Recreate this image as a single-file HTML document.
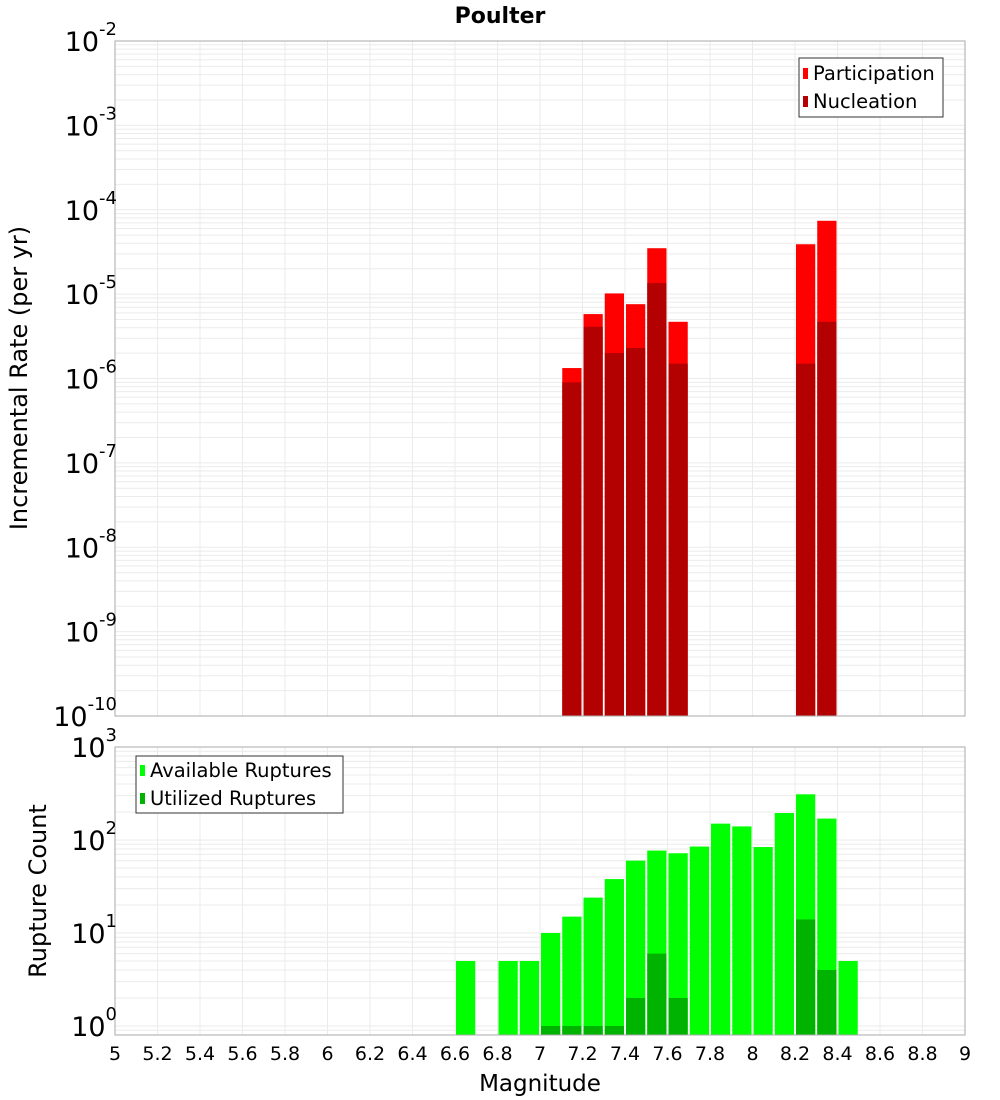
<!DOCTYPE html>
<html><head><meta charset="utf-8"><style>
body{margin:0;background:#fff;}
svg{display:block;font-family:"DejaVu Sans","Liberation Sans",sans-serif;}
</style></head><body>
<svg id="c" width="1000" height="1100" xmlns="http://www.w3.org/2000/svg"></svg>
<script>
const mags = [7.15,7.25,7.35,7.45,7.55,7.65,8.25,8.35];
const participation = [1.33e-6,5.8e-6,1.02e-5,7.6e-6,3.5e-5,4.7e-6,3.9e-5,7.4e-5];
const nucleation = [9e-7,4.1e-6,2.0e-6,2.3e-6,1.35e-5,1.5e-6,1.5e-6,4.7e-6];
const countMags = [6.65,6.85,6.95,7.05,7.15,7.25,7.35,7.45,7.55,7.65,7.75,7.85,7.95,8.05,8.15,8.25,8.35,8.45];
const available = [5,5,5,10,15,24,38,60,77,72,85,150,140,84,195,310,170,5];
const utilized = [0,0,0,1,1,1,1,2,6,2,0,0,0,0,0,14,4,0];
const xTicks = [5,5.2,5.4,5.6,5.8,6,6.2,6.4,6.6,6.8,7,7.2,7.4,7.6,7.8,8,8.2,8.4,8.6,8.8,9];
const topExps = [-10,-9,-8,-7,-6,-5,-4,-3,-2];
const botExps = [0,1,2,3];

const NS="http://www.w3.org/2000/svg";
const svg=document.getElementById('c');
function el(tag,attrs,parent){const e=document.createElementNS(NS,tag);for(const k in attrs)e.setAttribute(k,attrs[k]);(parent||svg).appendChild(e);return e;}
const X0=115,X1=965;
const xs=m=>X0+(m-5)/(9-5)*(X1-X0);
const T0=41,T1=716; const ysTop=v=>T0+(-2-Math.log10(v))/8*(T1-T0);
const B0=747,B1=1035; const bMin=-0.097,bMax=3; const ysBot=v=>B0+(bMax-Math.log10(v))/(bMax-bMin)*(B1-B0);

function grid(y0,y1,ys,eMin,eMax,minV){
  const g=el('g',{});
  
  
  for(let e=eMin;e<=eMax;e++){for(let k=1;k<10;k++){const v=k*Math.pow(10,e);if(v<minV)continue;const y=ys(v);if(y<y0-0.5||y>y1+0.5)continue;el('line',{x1:X0,x2:X1,y1:y,y2:y,stroke:'#ebebeb','stroke-width':1},g);}}
  xTicks.forEach(t=>{const x=xs(t);el('line',{x1:x,x2:x,y1:y0,y2:y1,stroke:'#ebebeb','stroke-width':1},g);});
}
grid(T0,T1,ysTop,-10,-3,1e-10);
grid(B0,B1,ysBot,-1,2,0.8);

const bw=(X1-X0)/40;
mags.forEach((m,i)=>{
  const x=xs(m)-bw/2+1,w=bw-2;
  const p=el('rect',{x:x,y:ysTop(participation[i]),width:w,height:T1-ysTop(participation[i]),fill:'#ff0000'});
  
  
  const n=el('rect',{x:x,y:ysTop(nucleation[i]),width:w,height:T1-ysTop(nucleation[i]),fill:'#b30000'});
  
  
});
countMags.forEach((m,i)=>{
  const x=xs(m)-bw/2+1,w=bw-2;
  const a=el('rect',{x:x,y:ysBot(available[i]),width:w,height:B1-ysBot(available[i]),fill:'#00ff00'});
  
  
  if(utilized[i]>0){
    const u=el('rect',{x:x,y:ysBot(utilized[i]),width:w,height:B1-ysBot(utilized[i]),fill:'#00b300'});
    
    
  }
});
el('rect',{x:X0,y:T0,width:X1-X0,height:T1-T0,fill:'none',stroke:'#aaa'});
el('rect',{x:X0,y:B0,width:X1-X0,height:B1-B0,fill:'none',stroke:'#aaa'});

function ylab(e,y){
  const t=el('text',{x:117,y:y+10,'text-anchor':'end','font-size':27,fill:'#000'});
  
  
  t.textContent='10';
  const s=el('tspan',{dy:-16,'font-size':18},t);s.textContent=String(e);
}
topExps.forEach(e=>ylab(e,ysTop(Math.pow(10,e))));
botExps.forEach(e=>ylab(e,ysBot(Math.pow(10,e))));
xTicks.forEach(t=>{
  const tx=el('text',{x:xs(t),y:1060,'text-anchor':'middle','font-size':19,fill:'#000'});
  
  
  tx.textContent=String(t);
});
</script>
<svg width="1000" height="1100" style="position:absolute;left:0;top:0" xmlns="http://www.w3.org/2000/svg">
<text x="500" y="23" text-anchor="middle" font-size="22" font-weight="bold" font-family="DejaVu Sans, Liberation Sans, sans-serif">Poulter</text>
<text x="540" y="1091" text-anchor="middle" font-size="23" font-family="DejaVu Sans, Liberation Sans, sans-serif">Magnitude</text>
<text transform="translate(27,378) rotate(-90)" text-anchor="middle" font-size="24" font-family="DejaVu Sans, Liberation Sans, sans-serif">Incremental Rate (per yr)</text>
<text transform="translate(46,891) rotate(-90)" text-anchor="middle" font-size="24" font-family="DejaVu Sans, Liberation Sans, sans-serif">Rupture Count</text>
<g font-family="DejaVu Sans, Liberation Sans, sans-serif" font-size="19.5">
<rect x="799" y="58" width="144" height="59" fill="#fff" stroke="#333"/>
<rect x="803" y="68" width="5" height="11" fill="#ff0000"/>
<text x="813" y="80">Participation</text>
<rect x="803" y="96" width="5" height="11" fill="#b30000"/>
<text x="813" y="108">Nucleation</text>
</g>
<g font-family="DejaVu Sans, Liberation Sans, sans-serif" font-size="19.5">
<rect x="136" y="756" width="207" height="57" fill="#fff" stroke="#333"/>
<rect x="140" y="765" width="5" height="11" fill="#00ff00"/>
<text x="150" y="777">Available Ruptures</text>
<rect x="140" y="793" width="5" height="11" fill="#00b300"/>
<text x="150" y="805">Utilized Ruptures</text>
</g>
</svg>
</body></html>
